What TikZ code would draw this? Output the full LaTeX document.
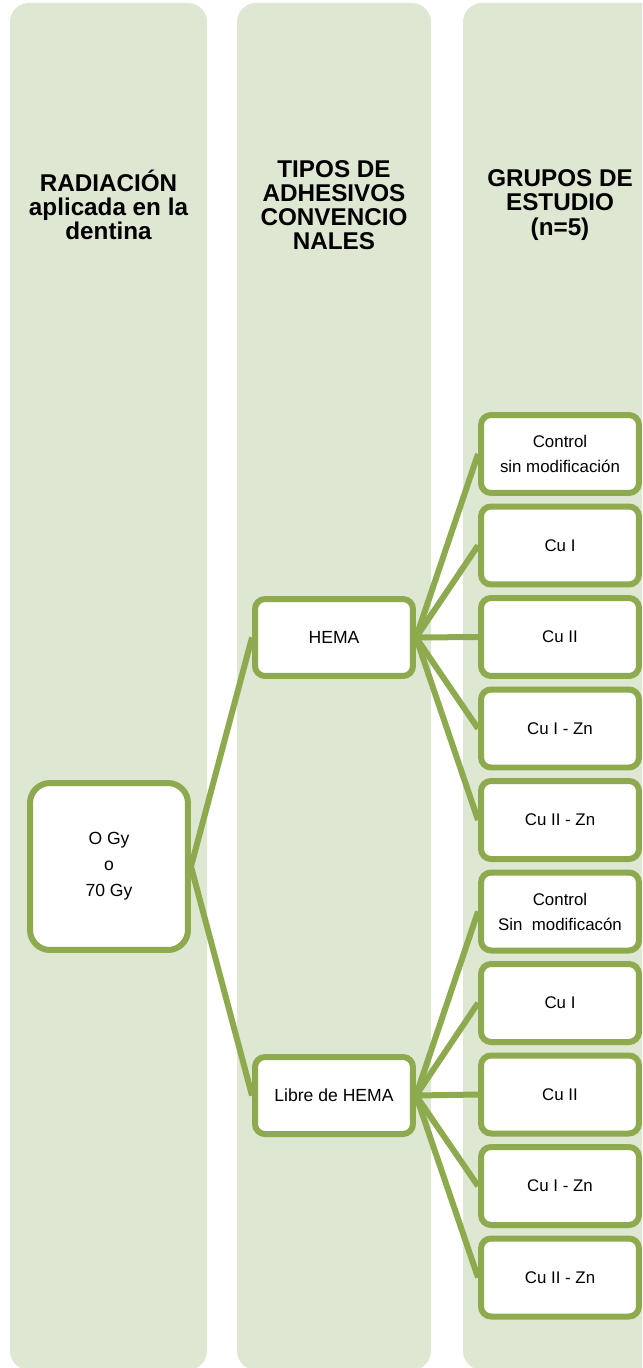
\documentclass[tikz,border=0pt]{standalone}
\usepackage{fontspec}
\setmainfont{Liberation Sans}
\definecolor{leafgreen}{RGB}{141,170,79}
\definecolor{palegreen}{RGB}{222,231,210}
\tikzset{
  column/.style={fill=palegreen, rounded corners=0.38cm
  },
  heading/.style={
    align=center, inner sep=0mm, font=\fontsize{13.8}{13.7}\selectfont\bfseries
  },
  dosebox/.style={
    draw=leafgreen, fill=white, rectangle, rounded corners=0.4cm, line width=0.12cm,
    minimum width=3.16cm, minimum height=3.34cm, align=center,
    font=\fontsize{10}{14.8}\selectfont
  },
  adhbox/.style={
    draw=leafgreen, fill=white, rectangle, rounded corners=0.2cm, line width=0.12cm,
    minimum width=3.16cm, minimum height=1.54cm, align=center,
    font=\fontsize{10}{14}\selectfont
  },
  grpbox/.style={
    draw=leafgreen, fill=white, rectangle, rounded corners=0.2cm, line width=0.12cm,
    minimum width=3.16cm, minimum height=1.56cm, align=center, inner sep=0mm,
    font=\fontsize{9.6}{14.2}\selectfont
  },
  link/.style={draw=leafgreen, line width=0.12cm}
}

\begin{document}
\begin{tikzpicture}[x=0.02cm, y=-0.02cm]
  \useasboundingbox (0,0) rectangle (642,1368);
  \clip (0,0) rectangle (642,1368);

  % columns
  \fill[column] (10,3) rectangle (207,1370);
  \fill[column] (237,3) rectangle (431,1370);
  \fill[column] (463,3) rectangle (670,1370);

  \node[heading] (head1) at (108.5,205) {RADIACIÓN\\aplicada en la\\dentina};
  \node[heading] (head2) at (334,205) {TIPOS DE\\ADHESIVOS\\CONVENCIO\\NALES};
  \node[heading] (head3) at (560,205) {GRUPOS DE\\ESTUDIO\\(n=5)};

  % boxes
  \node[dosebox] (dose) at (109,866.5) {O Gy\\o\\70 Gy};
  \node[adhbox] (hema) at (334,637.5) {HEMA};
  \node[adhbox] (libre) at (334,1095.5) {Libre de HEMA};

  \node[grpbox] (h1) at (560,454) {Control\\sin modificación};
  \node[grpbox] (h2) at (560,545.5) {Cu I};
  \node[grpbox] (h3) at (560,637) {Cu II};
  \node[grpbox] (h4) at (560,728.5) {Cu I - Zn};
  \node[grpbox] (h5) at (560,820) {Cu II - Zn};
  \node[grpbox] (l1) at (560,911.5) {Control\\Sin\ \ modificacón};
  \node[grpbox] (l2) at (560,1003) {Cu I};
  \node[grpbox] (l3) at (560,1094.5) {Cu II};
  \node[grpbox] (l4) at (560,1186) {Cu I - Zn};
  \node[grpbox] (l5) at (560,1277.5) {Cu II - Zn};

  % links
  \draw[link] (dose.east) -- (hema.west);
  \draw[link] (dose.east) -- (libre.west);
  \draw[link] (hema.east) -- (h1.west);
  \draw[link] (hema.east) -- (h2.west);
  \draw[link] (hema.east) -- (h3.west);
  \draw[link] (hema.east) -- (h4.west);
  \draw[link] (hema.east) -- (h5.west);
  \draw[link] (libre.east) -- (l1.west);
  \draw[link] (libre.east) -- (l2.west);
  \draw[link] (libre.east) -- (l3.west);
  \draw[link] (libre.east) -- (l4.west);
  \draw[link] (libre.east) -- (l5.west);
\end{tikzpicture}
\end{document}
